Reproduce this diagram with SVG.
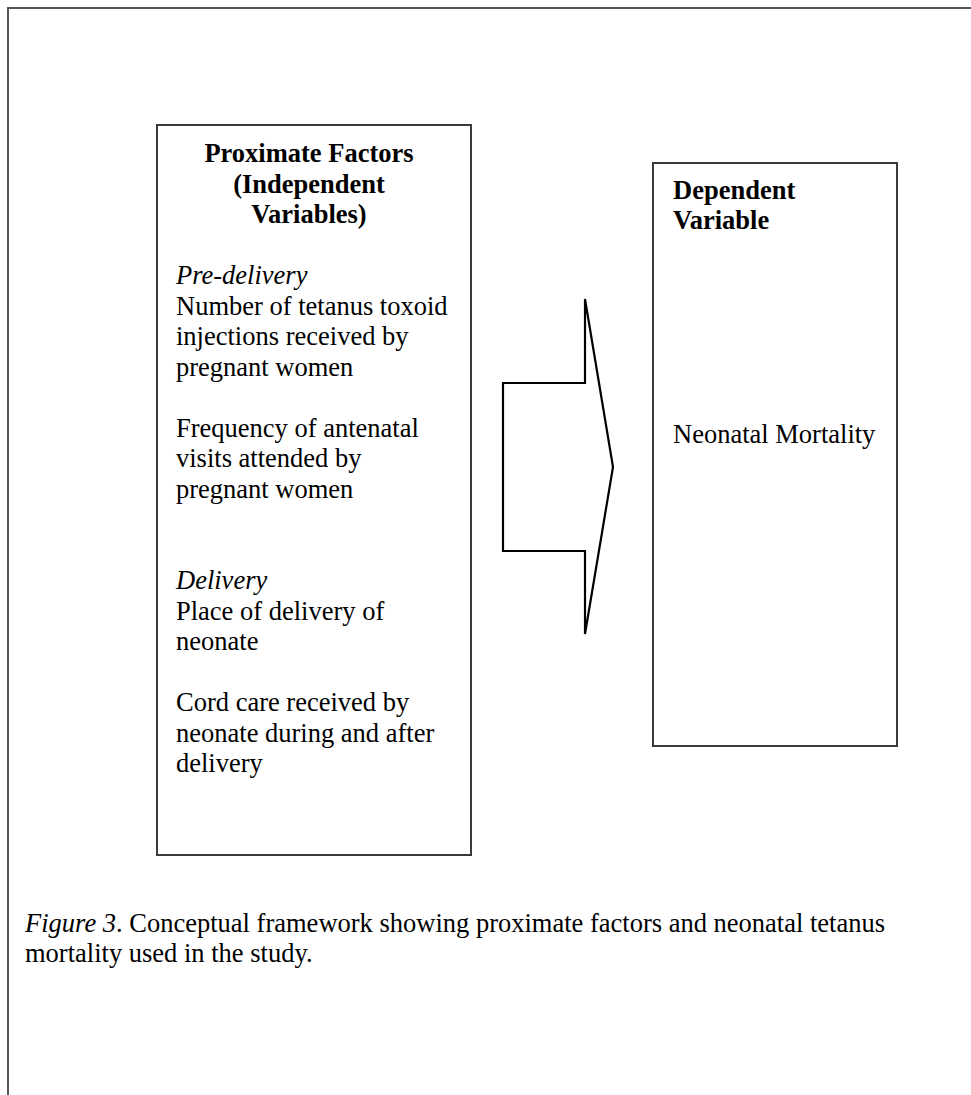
<svg xmlns="http://www.w3.org/2000/svg" width="971" height="1095" viewBox="0 0 971 1095">
<style>
text{font-family:"Liberation Serif","Times New Roman",serif;font-size:26.5px;fill:#000}
.b{font-weight:bold}
.i{font-style:italic}
.box{fill:#fff;stroke:#3a3a3a;stroke-width:2}
.arrow{fill:#fff;stroke:#000;stroke-width:2.2;stroke-linejoin:miter}
</style>
<rect width="971" height="1095" fill="#fff"/>
<path d="M8 1095 V8 H971" fill="none" stroke="#555" stroke-width="2"/>
<g id="proximate-factors">
<rect class="box" x="157" y="125" width="314" height="730"/>
<text class="b" x="309" y="162" text-anchor="middle">Proximate Factors</text>
<text class="b" x="309" y="192.5" text-anchor="middle">(Independent</text>
<text class="b" x="309" y="223" text-anchor="middle">Variables)</text>
<text class="i" x="176" y="284">Pre-delivery</text>
<text x="176" y="314.5">Number of tetanus toxoid</text>
<text x="176" y="345">injections received by</text>
<text x="176" y="375.5">pregnant women</text>
<text x="176" y="436.5">Frequency of antenatal</text>
<text x="176" y="467">visits attended by</text>
<text x="176" y="497.5">pregnant women</text>
<text class="i" x="176" y="589">Delivery</text>
<text x="176" y="619.5">Place of delivery of</text>
<text x="176" y="650">neonate</text>
<text x="176" y="711">Cord care received by</text>
<text x="176" y="741.5">neonate during and after</text>
<text x="176" y="772">delivery</text>
</g>
<g id="connectors">
<path class="arrow" d="M585 299 V383 H503 V551 H585 V634 L613 467 Z"/>
</g>
<g id="dependent-variable">
<rect class="box" x="653" y="163" width="244" height="583"/>
<text class="b" x="673" y="199">Dependent</text>
<text class="b" x="673" y="229">Variable</text>
<text x="673" y="443">Neonatal Mortality</text>
</g>
<g id="caption">
<text x="25" y="932"><tspan class="i">Figure 3</tspan>. Conceptual framework showing proximate factors and neonatal tetanus</text>
<text x="25" y="962">mortality used in the study.</text>
</g>
</svg>
